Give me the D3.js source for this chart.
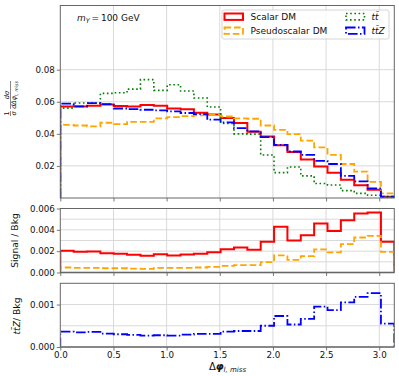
<!DOCTYPE html>
<html><head><meta charset="utf-8">
<script src="https://cdn.jsdelivr.net/npm/d3@7"></script>
<style>body{margin:0;background:#fff} svg{display:block;font-family:"DejaVu Sans",sans-serif}</style>
</head><body><svg id="c" width="399" height="376"></svg>
<script>
// ---------- data ----------
const nBins = 25;
const xMax = Math.PI;
const seriesNames = ["Scalar DM", "Pseudoscalar DM", "t\u0074\u0304", "tt\u0304Z"];
const scalarDM = [0.0571,0.0571,0.0575,0.0583,0.0573,0.0571,0.0579,0.0575,0.0558,0.0553,0.0531,0.0521,0.0498,0.0467,0.0413,0.0383,0.0329,0.0287,0.0240,0.0196,0.0158,0.0113,0.0080,0.0052,0.0008];
const pseudoDM = [0.0456,0.0452,0.0447,0.0469,0.0460,0.0475,0.0475,0.0496,0.0504,0.0510,0.0515,0.0519,0.0508,0.0496,0.0494,0.0452,0.0425,0.0398,0.0358,0.0315,0.0269,0.0212,0.0165,0.0100,0.0029];
const ttbar    = [0.0560,0.0592,0.0592,0.0652,0.0656,0.0679,0.0738,0.0671,0.0706,0.0667,0.0623,0.0567,0.0465,0.0400,0.0398,0.0268,0.0158,0.0193,0.0138,0.0090,0.0081,0.0046,0.0029,0.0017,0.0006];
const ttZ      = [0.0588,0.0571,0.0592,0.0585,0.0558,0.0554,0.0550,0.0546,0.0540,0.0530,0.0523,0.0488,0.0471,0.0435,0.0415,0.0380,0.0331,0.0290,0.0269,0.0231,0.0212,0.0138,0.0104,0.0060,0.0008];
const sbScalar = [0.00203,0.00194,0.00197,0.00181,0.00175,0.00166,0.00156,0.00172,0.00160,0.00169,0.00175,0.00190,0.00219,0.00234,0.00213,0.00288,0.00428,0.00300,0.00350,0.00460,0.00388,0.00490,0.00553,0.00563,0.00288];
const sbPseudo = [0.00047,0.00044,0.00044,0.00040,0.00040,0.00037,0.00034,0.00044,0.00044,0.00044,0.00047,0.00053,0.00063,0.00069,0.00069,0.00097,0.00160,0.00119,0.00153,0.00216,0.00188,0.00266,0.00328,0.00344,0.00194];
const ttZBkg   = [0.000362,0.000346,0.000354,0.000315,0.000300,0.000285,0.000269,0.000277,0.000269,0.000292,0.000308,0.000308,0.000362,0.000377,0.000377,0.000500,0.000730,0.000530,0.000660,0.000950,0.000870,0.001050,0.001180,0.001270,0.000550];
const xTicks   = [0,0.5,1.0,1.5,2.0,2.5,3.0];
const topTicks = [0.02,0.04,0.06,0.08];
const midTicks = [0,0.002,0.004,0.006];
const midGrid  = [0.001,0.002,0.003,0.004,0.005];
const botTicks = [0,0.001];
const botGrid  = [0.0005,0.001];

// ---------- styles ----------
const st = {
  scalar:{color:"#ff0000", w:2.0, dash:null},
  pseudo:{color:"#ffa500", w:1.8, dash:"6.6,2.9"},
  tt:    {color:"#008000", w:1.6, dash:"1.6,2.6"},
  ttz:   {color:"#0000ff", w:1.8, dash:"9.6,2.4,1.5,2.4"}
};
const X0 = 60.3, X1 = 394.3;
const svg = d3.select("#c");
const x = d3.scaleLinear().domain([0, xMax]).range([X0, X1]);
const edges = d3.range(nBins + 1).map(i => i * xMax / nBins);

function stepPts(vals){
  const p = [[edges[0],0]];
  vals.forEach((v,i)=>p.push([edges[i],v]));
  p.push([edges[nBins], vals[nBins-1]]);
  p.push([edges[nBins], 0]);
  return p;
}

let clipId = 0;
function panel(cfg){
  const y = d3.scaleLinear().domain(cfg.domain).range([cfg.y1, cfg.y0]);
  const g = svg.append("g");
  g.selectAll(null).data(xTicks.filter(d=>d>0)).join("line")
    .attr("x1",d=>x(d)).attr("x2",d=>x(d)).attr("y1",cfg.y0).attr("y2",cfg.y1)
    .attr("stroke","#d9d9d9").attr("stroke-width",1);
  g.selectAll(null).data(cfg.grid).join("line")
    .attr("x1",X0).attr("x2",X1).attr("y1",d=>y(d)).attr("y2",d=>y(d))
    .attr("stroke","#d9d9d9").attr("stroke-width",1);
  const id = "clip"+(clipId++);
  svg.append("clipPath").attr("id",id).append("rect")
    .attr("x",X0).attr("y",cfg.y0).attr("width",X1-X0).attr("height",cfg.y1-cfg.y0);
  const lg = g.append("g").attr("clip-path",`url(#${id})`);
  const line = d3.line().x(d=>x(d[0])).y(d=>y(d[1])).curve(d3.curveStepAfter);
  cfg.series.forEach(s=>{
    lg.append("path").attr("d", line(stepPts(s.vals))).attr("fill","none")
      .attr("stroke", s.st.color).attr("stroke-width", s.st.w)
      .attr("stroke-dasharray", s.st.dash);
  });
  if (cfg.zeroLine){
    g.append("line").attr("x1",X0).attr("x2",X1).attr("y1",y(0)).attr("y2",y(0))
      .attr("stroke","#a8a8a8").attr("stroke-width",2);
  }
  const ay = g.append("g").attr("transform",`translate(${X0},0)`)
    .call(d3.axisLeft(y).tickValues(cfg.ticks).tickFormat(d3.format(cfg.fmt)).tickSize(3.5).tickPadding(2));
  const ax = g.append("g").attr("transform",`translate(0,${cfg.y1})`)
    .call(d3.axisBottom(x).tickValues(xTicks).tickFormat(cfg.xlabels ? d3.format(".1f") : "").tickSize(3.5).tickPadding(1.5));
  [ay,ax].forEach(a=>{
    a.select(".domain").remove();
    a.selectAll(".tick line").attr("stroke","#555").attr("stroke-width",0.8);
    a.selectAll("text").attr("font-size",8.7).attr("fill","#111").attr("font-family","DejaVu Sans");
  });
  g.append("rect").attr("x",X0).attr("y",cfg.y0).attr("width",X1-X0).attr("height",cfg.y1-cfg.y0)
    .attr("fill","none").attr("stroke","#666").attr("stroke-width",1);
  return {y,g};
}

panel({y0:5.5, y1:198, domain:[0,0.12], ticks:topTicks, grid:topTicks, fmt:".2f", xlabels:false,
  series:[{vals:scalarDM,st:st.scalar},{vals:pseudoDM,st:st.pseudo},{vals:ttbar,st:st.tt},{vals:ttZ,st:st.ttz}]});
panel({y0:208.5, y1:272.5, domain:[0,0.006], ticks:midTicks, grid:midGrid, fmt:".3f", xlabels:false, zeroLine:true,
  series:[{vals:sbScalar,st:st.scalar},{vals:sbPseudo,st:st.pseudo}]});
panel({y0:283.3, y1:347, domain:[0,0.0015], ticks:botTicks, grid:botGrid, fmt:".3f", xlabels:true, zeroLine:true,
  series:[{vals:ttZBkg,st:st.ttz}]});

// ---------- annotation m_Y ----------
const ann = svg.append("text").attr("x",77).attr("y",21).attr("font-size",9).attr("fill","#111");
ann.append("tspan").attr("font-style","italic").text("m");
ann.append("tspan").attr("font-style","italic").attr("font-size",6.5).attr("dy",2).text("Y");
ann.append("tspan").attr("dy",-2).text("\u2009=\u2009100 GeV");

// ---------- legend ----------
const leg = svg.append("g");
leg.append("rect").attr("x",222).attr("y",10).attr("width",167).attr("height",29).attr("rx",2)
  .attr("fill","#fff").attr("fill-opacity",0.8).attr("stroke","#cccccc").attr("stroke-width",0.8);
const legItems = [
  {name:seriesNames[0], st:st.scalar, cx:224.5, tx:250.5, row:0},
  {name:seriesNames[1], st:st.pseudo, cx:224.5, tx:250.5, row:1},
  {name:seriesNames[2], st:st.tt,     cx:346,   tx:371.5, row:0, it:true},
  {name:seriesNames[3], st:st.ttz,    cx:346,   tx:371.5, row:1, it:true}
];
legItems.forEach(d=>{
  const yc = d.row===0 ? 16.7 : 30.7;
  leg.append("rect").attr("x",d.cx).attr("y",yc-3.2).attr("width",18.5).attr("height",6.4)
    .attr("fill","none").attr("stroke",d.st.color).attr("stroke-width",d.st.w)
    .attr("stroke-dasharray",d.st.dash);
  leg.append("text").attr("x",d.tx).attr("y",yc+3.3).attr("font-size",9).attr("fill","#111")
    .attr("font-style",d.it?"italic":null).text(d.name);
});

// ---------- axis labels ----------
const yl = svg.append("g").attr("transform","translate(10.5,116) rotate(-90)")
  .attr("font-size",6.5).attr("fill","#111");
yl.append("text").attr("x",2.5).attr("y",-1.6).attr("text-anchor","middle").text("1");
yl.append("text").attr("x",2.5).attr("y",5.6).attr("text-anchor","middle").attr("font-style","italic").text("σ");
yl.append("line").attr("x1",0).attr("x2",5).attr("y1",0).attr("y2",0).attr("stroke","#111").attr("stroke-width",0.5);
yl.append("text").attr("x",21).attr("y",-1.6).attr("text-anchor","middle").attr("font-style","italic").text("dσ");
const den = yl.append("text").attr("x",21).attr("y",5.6).attr("text-anchor","middle").attr("font-style","italic");
den.append("tspan").text("dΔφ");
den.append("tspan").attr("font-size",4.6).attr("dy",1.4).text("l, miss");
yl.append("line").attr("x1",7).attr("x2",35).attr("y1",0).attr("y2",0).attr("stroke","#111").attr("stroke-width",0.5);

svg.append("text").attr("transform","translate(14,240.5) rotate(-90)").attr("text-anchor","middle")
  .attr("dominant-baseline","central").attr("font-size",9.2).attr("fill","#111").text("Signal / Bkg");
const tl = svg.append("text").attr("transform","translate(16,316) rotate(-90)").attr("text-anchor","middle")
  .attr("dominant-baseline","central").attr("font-size",9.2).attr("fill","#111");
tl.append("tspan").attr("font-style","italic").text("tt\u0304Z");
tl.append("tspan").text("/ Bkg");

const xl = svg.append("text").attr("x",227.5).attr("y",369.5).attr("text-anchor","middle").attr("font-size",10).attr("fill","#111");
xl.append("tspan").text("Δ");
xl.append("tspan").attr("font-style","italic").attr("font-weight","bold").text("φ");
xl.append("tspan").attr("font-style","italic").attr("font-size",7).attr("dy",2).text("l, miss");
</script></body></html>
